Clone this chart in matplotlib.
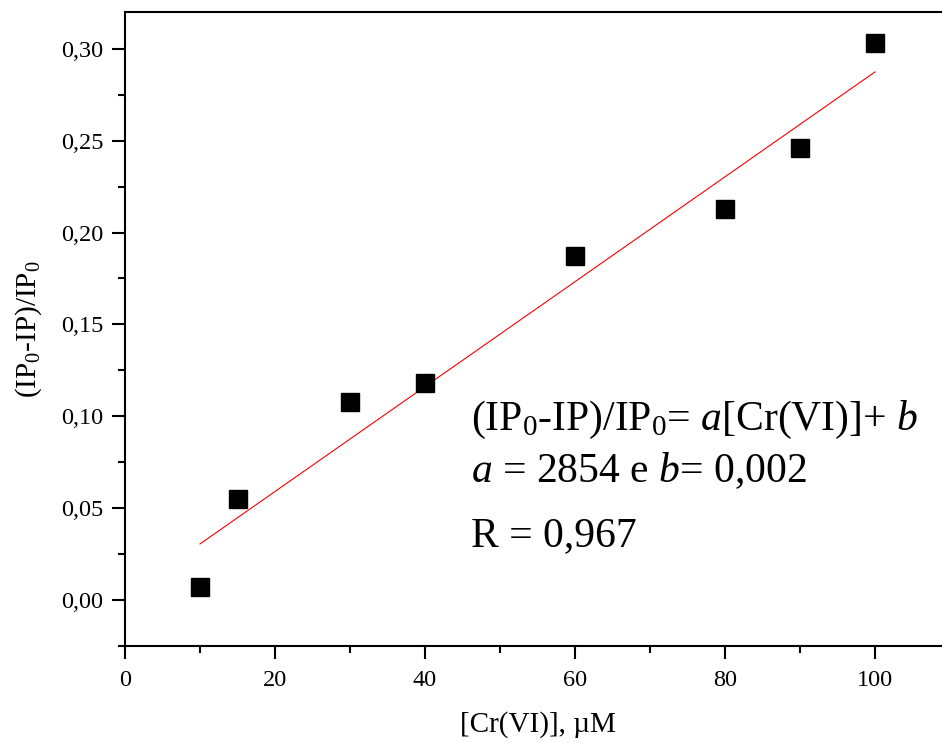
import numpy as np
import matplotlib.pyplot as plt
from matplotlib.ticker import MultipleLocator, FuncFormatter

# Cr(VI) calibration data
conc = [10, 15, 30, 40, 60, 80, 90, 100]                            # µM
response = [0.007, 0.055, 0.108, 0.118, 0.187, 0.213, 0.246, 0.303]  # (IP0-IP)/IP0

# linear fit parameters (a in M^-1)
a = 2854
b = 0.002
r = 0.967

plt.rcParams['font.family'] = ['Liberation Serif', 'DejaVu Serif']
plt.rcParams['mathtext.fontset'] = 'custom'
plt.rcParams['mathtext.rm'] = 'Liberation Serif'
plt.rcParams['mathtext.it'] = 'Liberation Serif:italic'

fig = plt.figure(figsize=(9.42, 7.43), dpi=100)
ax = fig.add_axes([125 / 942, 97 / 743, 825 / 942, 634 / 743])

ax.plot(conc, response, 's', color='black', markersize=13, zorder=3)

x_fit = np.array([conc[0], conc[-1]])
ax.plot(x_fit, a * 1e-6 * x_fit + b, color='red', linewidth=0.8)

ax.set_xlim(0, 110)
ax.set_ylim(-0.025, 0.32)

ax.xaxis.set_major_locator(MultipleLocator(20))
ax.xaxis.set_minor_locator(MultipleLocator(10))
ax.yaxis.set_major_locator(MultipleLocator(0.05))
ax.yaxis.set_minor_locator(MultipleLocator(0.025))
ax.yaxis.set_major_formatter(FuncFormatter(lambda v, p: f'{v:.2f}'.replace('.', ',')))

for s in ['left', 'bottom', 'top']:
    ax.spines[s].set_linewidth(1.5)
ax.spines['right'].set_visible(False)

ax.tick_params(which='both', direction='out', width=1.5, labelsize=17.5, top=False, right=False)
ax.tick_params(which='major', length=9.5)
ax.tick_params(which='minor', length=5)
ax.tick_params(axis='y', pad=6)
ax.tick_params(axis='x', pad=8)

ax.set_xlabel('[Cr(VI)], µM', fontsize=21, labelpad=14)
ax.set_ylabel('(IP$_0$-IP)/IP$_0$', fontsize=21, labelpad=12)

ax.text(0.419, 0.341, '(IP$_0$-IP)/IP$_0$= $a$[Cr(VI)]+ $b$', transform=ax.transAxes, fontsize=30)
ax.text(0.419, 0.259, f'$a$ = {a} e $b$= {b:.3f}'.replace('.', ','), transform=ax.transAxes, fontsize=30)
ax.text(0.419, 0.158, f'R = {r:.3f}'.replace('.', ','), transform=ax.transAxes, fontsize=30)

fig.savefig('out.png', dpi=100)
